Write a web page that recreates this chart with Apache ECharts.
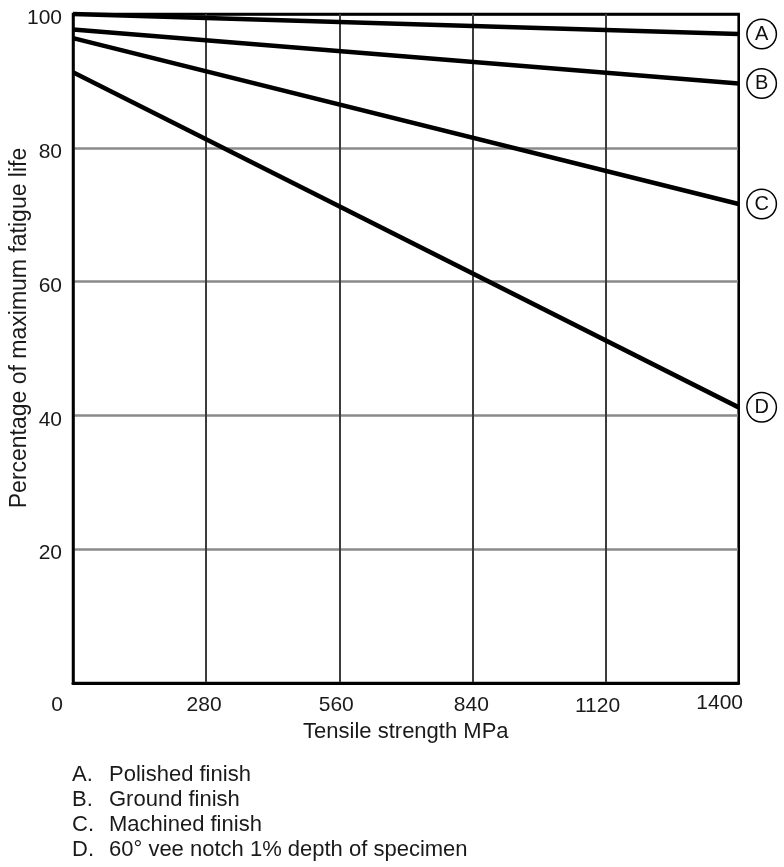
<!DOCTYPE html>
<html>
<head>
<meta charset="utf-8">
<script src="https://cdn.jsdelivr.net/npm/echarts@6/dist/echarts.min.js"></script>
<style>
  html, body { margin: 0; padding: 0; background: #ffffff; }
  #chart { width: 784px; height: 867px; }
</style>
</head>
<body>
<div id="chart"></div>
<script>
// Tensile strength (MPa) at the two ends of each straight-line curve
const tensile = [0, 1400];
// Percentage of maximum fatigue life for each surface condition
const polished = [100, 97];
const ground = [97.7, 89.6];
const machined = [96.4, 71.6];
const notched = [91.3, 41.2];
const curveKeys = ['A', 'B', 'C', 'D'];
const curveValues = [polished, ground, machined, notched];
// Axis ticks
const xTicks = [0, 280, 560, 840, 1120, 1400];
const yTicks = [20, 40, 60, 80, 100];
// Key printed beneath the chart
const keyLetters = ['A.', 'B.', 'C.', 'D.'];
const keyTexts = ['Polished finish', 'Ground finish', 'Machined finish', '60\u00B0 vee notch 1% depth of specimen'];

const FONT = '"Liberation Sans", Arial, Helvetica, sans-serif';
const chart = echarts.init(document.getElementById('chart'), null, { renderer: 'canvas' });

// per-label nudges of the x tick labels: [left shift, down shift]
const xNudge = { 0: [16, 4], 280: [2, 4], 560: [3, 4], 840: [1, 4], 1120: [8, 5], 1400: [19, 0] };
const xRich = {};
xTicks.forEach(v => {
  const n = xNudge[v] || [0, 0];
  xRich['t' + v] = {
    fontFamily: FONT, fontSize: 21, color: '#1a1a1a', lineHeight: 21,
    padding: [n[1], n[0] * 2, 0, 0]
  };
});

// one straight black line per surface condition, tagged with a circled letter at its end
const series = curveKeys.map((k, i) => ({
  name: k,
  type: 'line',
  data: tensile.map((x, j) => [x, curveValues[i][j]]),
  symbol: 'none',
  silent: true,
  clip: false,
  lineStyle: { color: '#000', width: 4.5, cap: 'butt' },
  endLabel: {
    show: true,
    formatter: '{c|{a}}',
    distance: 9,
    align: 'left',
    backgroundColor: '#fff',
    borderColor: '#000',
    borderWidth: 1.5,
    borderRadius: 15,
    padding: 0,
    rich: { c: { fontFamily: FONT, fontSize: 20, color: '#111', width: 28, height: 28, lineHeight: 28, align: 'center' } }
  }
}));

const graphics = [];
graphics.push({
  type: 'text',
  x: 20, y: 328,
  rotation: Math.PI / 2,
  style: {
    text: 'Percentage of maximum fatigue life',
    fontFamily: FONT, fontSize: 23, fill: '#1a1a1a',
    align: 'center', verticalAlign: 'middle'
  }
});
keyLetters.forEach((l, i) => {
  const cy = 774.5 + i * 25;
  graphics.push({
    type: 'text', x: 72, y: cy,
    style: { text: l, fontFamily: FONT, fontSize: 22, fill: '#1a1a1a', align: 'left', verticalAlign: 'middle' }
  });
  graphics.push({
    type: 'text', x: 109, y: cy,
    style: { text: keyTexts[i], fontFamily: FONT, fontSize: 22, fill: '#1a1a1a', align: 'left', verticalAlign: 'middle' }
  });
});

chart.setOption({
  animation: false,
  backgroundColor: '#ffffff',
  grid: {
    left: 73, right: 42, top: 14, bottom: 184,
    show: true, borderColor: '#000', borderWidth: 2.5, backgroundColor: 'transparent'
  },
  xAxis: {
    type: 'value',
    min: 0, max: 1400, interval: 280,
    name: 'Tensile strength MPa',
    nameLocation: 'middle',
    nameGap: 38,
    nameTextStyle: { fontFamily: FONT, fontSize: 22, color: '#1a1a1a', verticalAlign: 'top' },
    axisLine: { show: true, lineStyle: { color: '#000', width: 3 } },
    axisTick: { show: false },
    axisLabel: {
      margin: 10,
      showMinLabel: true, showMaxLabel: true,
      formatter: v => '{t' + v + '|' + v + '}',
      rich: xRich
    },
    splitLine: { show: true, lineStyle: { color: ['#000', '#3c3c3c', '#3c3c3c', '#3c3c3c', '#3c3c3c', '#000'], width: 2 } }
  },
  yAxis: {
    type: 'value',
    min: 0, max: 100, interval: 20,
    axisLine: { show: true, lineStyle: { color: '#000', width: 2.5 } },
    axisTick: { show: false },
    axisLabel: {
      margin: 11,
      formatter: v => (yTicks.indexOf(v) >= 0 ? '{n|' + v + '}' : ''),
      rich: { n: { fontFamily: FONT, fontSize: 21, color: '#1a1a1a', padding: [9, 0, 0, 0] } }
    },
    splitLine: { show: true, lineStyle: { color: ['#000', '#8a8a8a', '#8a8a8a', '#8a8a8a', '#8a8a8a', '#000'], width: 2.5 } }
  },
  series: series,
  graphic: graphics
});
</script>
</body>
</html>
